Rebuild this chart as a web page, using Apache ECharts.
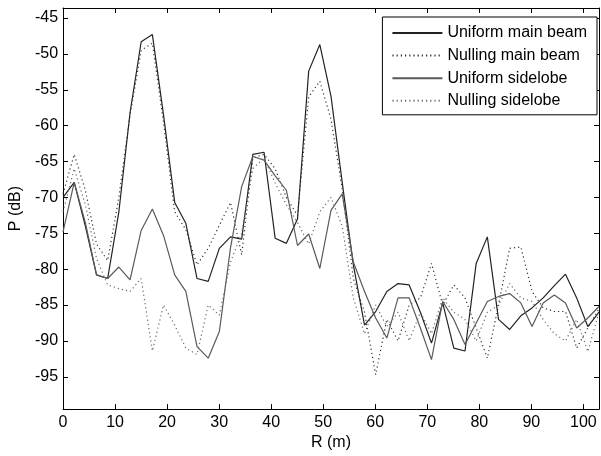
<!DOCTYPE html>
<html>
<head>
<meta charset="utf-8">
<script src="https://cdn.jsdelivr.net/npm/echarts@6/dist/echarts.min.js"></script>
<style>
  html, body { margin: 0; padding: 0; background: #fff; }
  #chart { width: 601px; height: 456px; }
</style>
</head>
<body>
<div id="chart"></div>
<script>
// range samples (m)
const R = [0, 2.15, 4.29, 6.44, 8.58, 10.73, 12.88, 15.02, 17.17, 19.31, 21.46, 23.6, 25.75, 27.9,
  30.04, 32.19, 34.33, 36.48, 38.63, 40.77, 42.92, 45.06, 47.21, 49.35, 51.5, 53.65, 55.79, 57.94,
  60.08, 62.23, 64.38, 66.52, 68.67, 70.81, 72.96, 75.1, 77.25, 79.4, 81.54, 83.69, 85.83, 87.98,
  90.13, 92.27, 94.42, 96.56, 98.71, 100.85, 103]

// power (dB)
const uniformMain = [-70.0, -67.9, -74.0, -80.8, -81.3, -72.0, -58.2, -48.3, -47.3, -58.5, -70.7, -73.6,
  -81.3, -81.7, -77.1, -75.5, -75.8, -64.0, -63.7, -75.7, -76.4, -73.0, -52.4, -48.7, -55.9, -67.9,
  -79.4, -87.8, -85.9, -83.1, -82.0, -82.2, -86.0, -90.3, -84.7, -91.0, -91.4, -79.2, -75.5, -87.0,
  -88.4, -86.5, -85.4, -84.0, -82.3, -80.7, -84.0, -88.0, -86.0]
const nullingMain = [-69.5, -64.0, -69.0, -76.5, -78.8, -70.0, -58.5, -49.5, -48.5, -59.5, -72.0, -74.5,
  -79.4, -77.1, -73.9, -70.7, -78.0, -64.5, -64.0, -66.0, -70.0, -72.5, -56.0, -53.8, -59.1, -68.8,
  -81.3, -86.0, -94.7, -87.0, -90.0, -85.0, -84.0, -79.2, -85.0, -82.2, -84.0, -88.2, -92.4, -85.0,
  -77.1, -76.9, -83.1, -85.4, -85.9, -85.9, -91.0, -88.2, -85.5]
const uniformSide = [-74.8, -67.9, -73.5, -80.8, -81.3, -79.7, -81.5, -74.6, -71.6, -75.3, -80.8, -83.1,
  -90.8, -92.4, -88.7, -77.0, -68.5, -64.3, -64.8, -67.0, -69.0, -76.7, -75.1, -79.9, -71.8, -69.5,
  -79.0, -83.1, -86.8, -89.6, -84.0, -84.0, -88.2, -92.6, -84.5, -87.0, -90.5, -87.5, -84.5, -83.8,
  -83.4, -84.7, -88.0, -84.7, -83.6, -84.7, -88.2, -86.8, -85.2]
const nullingSide = [-72.0, -66.0, -71.0, -78.5, -82.2, -82.7, -83.1, -81.3, -91.4, -85.0, -87.8, -91.0,
  -91.9, -85.0, -86.4, -79.0, -75.0, -66.0, -64.5, -68.0, -71.0, -73.5, -76.5, -72.0, -70.0, -74.0,
  -84.0, -89.0, -85.0, -88.0, -86.0, -90.0, -86.0, -89.0, -84.0, -86.0, -87.0, -90.0, -86.0, -85.0,
  -82.0, -84.0, -84.5, -87.0, -89.0, -90.0, -87.0, -91.5, -86.0]

const xTicks = [0, 10, 20, 30, 40, 50, 60, 70, 80, 90, 100]
const yTicks = [-95, -90, -85, -80, -75, -70, -65, -60, -55, -50, -45]

const font = 'Liberation Sans, Arial, sans-serif'
const pairs = (ys) => R.map((r, i) => [r, ys[i]])

const axisLine = { show: true, onZero: false, lineStyle: { color: '#000', width: 1 } }
const tick = (vals) => ({ show: true, inside: true, length: 5, customValues: vals, lineStyle: { color: '#000' } })

const line = (name, ys, color, type) => ({
  name,
  type: 'line',
  data: pairs(ys),
  showSymbol: false,
  symbol: 'none',
  silent: true,
  lineStyle: { color, width: 1.2, type },
  itemStyle: { color }
})

const chart = echarts.init(document.getElementById('chart'), null, { renderer: 'canvas' })
chart.setOption({
  animation: false,
  backgroundColor: '#fff',
  textStyle: { fontFamily: font },
  grid: { left: 62, right: 2, top: 8, bottom: 44, show: false },
  legend: {
    right: 4,
    top: 17,
    orient: 'vertical',
    itemWidth: 50,
    itemHeight: 14,
    itemGap: 6.6,
    padding: [8, 10, 6, 9],
    backgroundColor: '#fff',
    borderColor: '#000',
    borderWidth: 1,
    borderRadius: 0,
    itemStyle: { opacity: 0 },
    textStyle: { fontFamily: font, fontSize: 16, color: '#000' },
    data: ['Uniform main beam', 'Nulling main beam', 'Uniform sidelobe', 'Nulling sidelobe']
  },
  xAxis: [
    {
      type: 'value', min: 0, max: 103, position: 'bottom',
      name: 'R (m)', nameLocation: 'middle', nameGap: 24,
      nameTextStyle: { fontFamily: font, fontSize: 16, color: '#000' },
      axisLine, axisTick: tick(xTicks), splitLine: { show: false },
      axisLabel: { customValues: xTicks, fontFamily: font, fontSize: 16, color: '#000', margin: 5 }
    },
    {
      type: 'value', min: 0, max: 103, position: 'top',
      axisLine, axisTick: tick(xTicks), splitLine: { show: false }, axisLabel: { show: false }
    }
  ],
  yAxis: [
    {
      type: 'value', min: -99.5, max: -43.6, position: 'left',
      name: 'P (dB)', nameLocation: 'middle', nameGap: 37,
      nameTextStyle: { fontFamily: font, fontSize: 16, color: '#000' },
      axisLine, axisTick: tick(yTicks), splitLine: { show: false },
      axisLabel: { customValues: yTicks, fontFamily: font, fontSize: 16, color: '#000', margin: 5 }
    },
    {
      type: 'value', min: -99.5, max: -43.6, position: 'right',
      axisLine, axisTick: tick(yTicks), splitLine: { show: false }, axisLabel: { show: false }
    }
  ],
  series: [
    line('Uniform main beam', uniformMain, '#222', 'solid'),
    line('Nulling main beam', nullingMain, '#333', [1.2, 3]),
    line('Uniform sidelobe', uniformSide, '#5a5a5a', 'solid'),
    line('Nulling sidelobe', nullingSide, '#6a6a6a', [1.2, 3])
  ]
})

window.addEventListener('resize', () => chart.resize())
</script>
</body>
</html>
